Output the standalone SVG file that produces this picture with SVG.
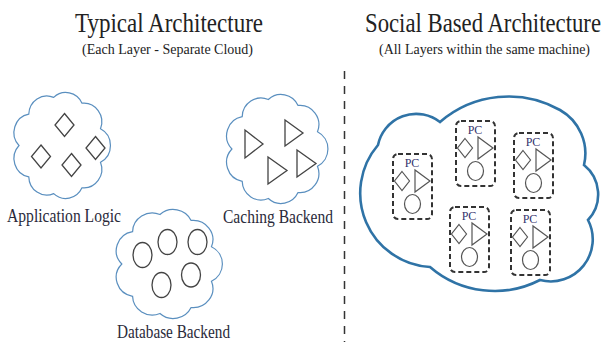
<svg xmlns="http://www.w3.org/2000/svg" xmlns:xlink="http://www.w3.org/1999/xlink" width="610" height="342" viewBox="0 0 610 342">
<style>
.title{font-family:"Liberation Serif","Times New Roman",serif;font-size:23px;fill:#222}
.sub{font-family:"Liberation Serif","Times New Roman",serif;font-size:14px;fill:#222}
.lbl{font-family:"Liberation Serif","Times New Roman",serif;font-size:18px;fill:#2a2a3a}
.pct{font-family:"Liberation Serif","Times New Roman",serif;font-size:12px;fill:#34346e}
.scloud{fill:#fff;stroke:#5a8fbf;stroke-width:1.2}
.bcloud{fill:#fff;stroke:#2f73a6;stroke-width:2.6}
.shape{fill:none;stroke:#444;stroke-width:1.3}
.pshape{fill:none;stroke:#555;stroke-width:1.2}
.pcbox{fill:none;stroke:#333;stroke-width:2;stroke-dasharray:5 3}
.divider{stroke:#333;stroke-width:1.5;stroke-dasharray:8 7}
</style>
<defs>
<path id="cloud" vector-effect="non-scaling-stroke" d="M-7.3,-46.3 A18,18 0 0 1 21,-40.7 A18,18 0 0 1 39.5,-16.1 A18,18 0 0 1 39.5,16.1 A18,18 0 0 1 21,40.7 A18,18 0 0 1 -7.3,46.3 A18,18 0 0 1 -32.2,30.2 A18,18 0 0 1 -42,0 A18,18 0 0 1 -32.2,-30.2 A18,18 0 0 1 -7.3,-46.3 Z"/>
<polygon id="dia" points="0,-11.5 9.5,0 0,11.5 -9.5,0"/>
<g id="pc">
<rect class="pcbox" x="0" y="0" width="39" height="65" rx="5"/>
<text class="pct" x="19" y="13" text-anchor="middle">PC</text>
<polygon class="pshape" points="9,17.5 16.5,27 9,36.5 1.5,27"/>
<polygon class="pshape" points="22,16 22,38 37,27"/>
<ellipse class="pshape" cx="19.5" cy="50" rx="8" ry="9.5"/>
</g>
</defs>
<rect width="610" height="342" fill="#fff"/>

<g id="title-left">
<text class="title" transform="translate(75,31.5) scale(1,1.18)" x="0" y="0" textLength="188" lengthAdjust="spacingAndGlyphs">Typical Architecture</text>
<text class="sub" x="82" y="54" textLength="171" lengthAdjust="spacingAndGlyphs">(Each Layer - Separate Cloud)</text>
</g>
<g id="title-right">
<text class="title" transform="translate(365,31.5) scale(1,1.18)" x="0" y="0" textLength="236" lengthAdjust="spacingAndGlyphs">Social Based Architecture</text>
<text class="sub" x="379" y="54" textLength="211" lengthAdjust="spacingAndGlyphs">(All Layers within the same machine)</text>
</g>

<g id="divider">
<line class="divider" x1="344.5" y1="71" x2="344.5" y2="342"/>
</g>

<g id="application-logic">
<use xlink:href="#cloud" class="scloud" transform="translate(61,145.5) scale(1,1.04)"/>
<use xlink:href="#dia" class="shape" x="64.5" y="125"/>
<use xlink:href="#dia" class="shape" x="41" y="156.5"/>
<use xlink:href="#dia" class="shape" x="71.5" y="165"/>
<use xlink:href="#dia" class="shape" x="95.5" y="148"/>
<text class="lbl" x="7" y="222" textLength="114" lengthAdjust="spacingAndGlyphs">Application Logic</text>
</g>

<g id="caching-backend">
<use xlink:href="#cloud" class="scloud" transform="translate(276,149) scale(1.05,1.07)"/>
<polygon class="shape" points="245,130 245,158 263,144"/>
<polygon class="shape" points="285,120 285,146 303,133"/>
<polygon class="shape" points="268,157 268,184 287,170.5"/>
<polygon class="shape" points="297,150 297,177 316,163.5"/>
<text class="lbl" x="223" y="222.5" textLength="110" lengthAdjust="spacingAndGlyphs">Caching Backend</text>
</g>

<g id="database-backend">
<use xlink:href="#cloud" class="scloud" transform="translate(168,264) scale(1.1,1.07)"/>
<ellipse class="shape" cx="142.5" cy="255" rx="9.5" ry="12.5"/>
<ellipse class="shape" cx="167.5" cy="242" rx="9.5" ry="12.5"/>
<ellipse class="shape" cx="197.5" cy="242" rx="9.5" ry="12.5"/>
<ellipse class="shape" cx="161.5" cy="285" rx="9.5" ry="12.5"/>
<ellipse class="shape" cx="191" cy="275" rx="9.5" ry="12"/>
<text class="lbl" x="117" y="337.5" textLength="113" lengthAdjust="spacingAndGlyphs">Database Backend</text>
</g>

<g id="social-cloud">
<path class="bcloud" d="M378,145 A39,39 0 0 1 440,122 A105,105 0 0 1 560,110 A50,50 0 0 1 584,165 A37.5,37.5 0 0 1 588,220 A42,42 0 0 1 540,280 A99,99 0 0 1 430,267 A74,74 0 0 1 378,145 Z"/>
</g>
<g id="pc1"><use xlink:href="#pc" x="393" y="154"/></g>
<g id="pc2"><use xlink:href="#pc" x="456" y="121"/></g>
<g id="pc3"><use xlink:href="#pc" x="514" y="133"/></g>
<g id="pc4"><use xlink:href="#pc" x="450" y="207"/></g>
<g id="pc5"><use xlink:href="#pc" x="511" y="210"/></g>
</svg>
